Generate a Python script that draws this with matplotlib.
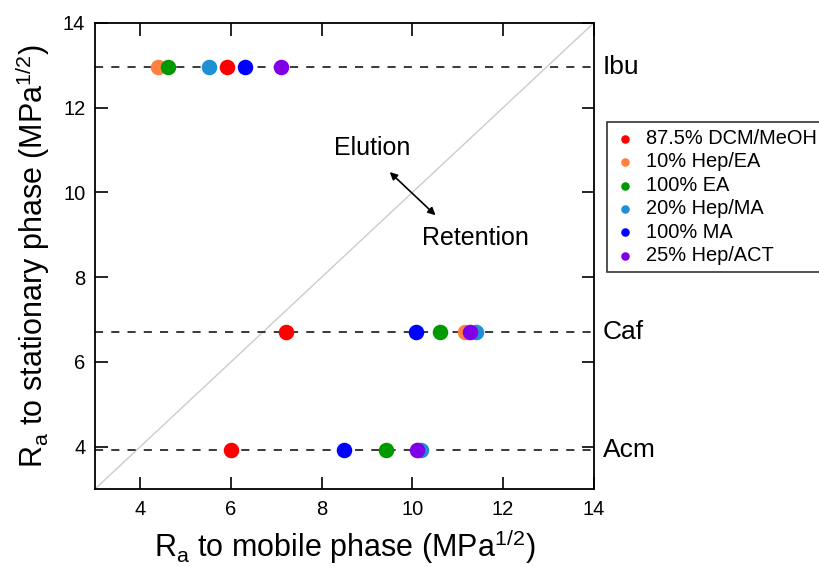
import matplotlib
matplotlib.use("Agg")
import matplotlib.pyplot as plt

plt.rcParams['font.family'] = ['Liberation Sans', 'DejaVu Sans']
plt.rcParams['mathtext.fontset'] = 'custom'
plt.rcParams['mathtext.rm'] = 'Liberation Sans'
plt.rcParams['mathtext.it'] = 'Liberation Sans:italic'

compounds = ["Ibu", "Caf", "Acm"]
compound_y = [12.97, 6.7, 3.92]

series_names = ["87.5% DCM/MeOH", "10% Hep/EA", "100% EA", "20% Hep/MA", "100% MA", "25% Hep/ACT"]
series_colors = ["#ff0000", "#ff8040", "#009a00", "#1f8fd6", "#0000ff", "#7f00e6"]
# x values (Ra to mobile phase) for Ibu, Caf, Acm
x_ibu = [5.91, 4.39, 4.61, 5.51, 6.30, 7.10]
x_caf = [7.21, 11.15, 10.60, 11.41, 10.09, 11.27]
x_acm = [6.00, 10.12, 9.41, 10.20, 8.50, 10.11]

fig = plt.figure(figsize=(8.19, 5.67), dpi=100)
ax = fig.add_axes([0.116, 0.1376, 0.609, 0.822])

ax.plot([3, 14], [3, 14], color="#cccccc", lw=1.0, zorder=1)
for yv in compound_y:
    ax.axhline(yv, color="#2a2a2a", lw=1.3, ls=(0, (4.5, 4.5)), zorder=2)

for i, name in enumerate(series_names):
    xs = [x_ibu[i], x_caf[i], x_acm[i]]
    ax.scatter(xs, compound_y, s=125, color=series_colors[i], label=name,
               zorder=3, linewidths=0)

for name, yv in zip(compounds, compound_y):
    ax.text(14.2, yv, name, fontsize=19, va="center", ha="left", clip_on=False)

ax.annotate("", xy=(10.51, 9.46), xytext=(9.5, 10.48),
            arrowprops=dict(arrowstyle="<|-|>", color="black", lw=1.2,
                            mutation_scale=11, shrinkA=0, shrinkB=0))
ax.text(9.12, 11.04, "Elution", fontsize=18, ha="center", va="center")
ax.text(11.39, 8.92, "Retention", fontsize=18, ha="center", va="center")

ax.set_xlim(3, 14)
ax.set_ylim(3, 14)
ax.set_xticks([4, 6, 8, 10, 12, 14])
ax.set_yticks([4, 6, 8, 10, 12, 14])
ax.tick_params(direction="in", length=9, width=1.2, labelsize=14.5,
               top=True, right=True)
ax.tick_params(axis="x", pad=8)
ax.tick_params(axis="y", pad=7)
for sp in ax.spines.values():
    sp.set_linewidth(1.3)

ax.set_xlabel(r"R$_{\mathrm{a}}$ to mobile phase (MPa$^{1/2}$)", fontsize=22)
ax.set_ylabel(r"R$_{\mathrm{a}}$ to stationary phase (MPa$^{1/2}$)", fontsize=22)
ax.xaxis.set_label_coords(0.5, -0.081)
ax.yaxis.set_label_coords(-0.086, 0.5)

leg = fig.legend(loc="upper left", bbox_to_anchor=(607/819, 1 - 122/567),
                 fontsize=14.4, frameon=True, fancybox=False, edgecolor="black",
                 markerscale=0.55, handletextpad=0.5, labelspacing=0.22,
                 borderpad=0.35, handlelength=1.1, borderaxespad=0)
leg.get_frame().set_linewidth(1.2)

fig.savefig("out.png", dpi=100)
